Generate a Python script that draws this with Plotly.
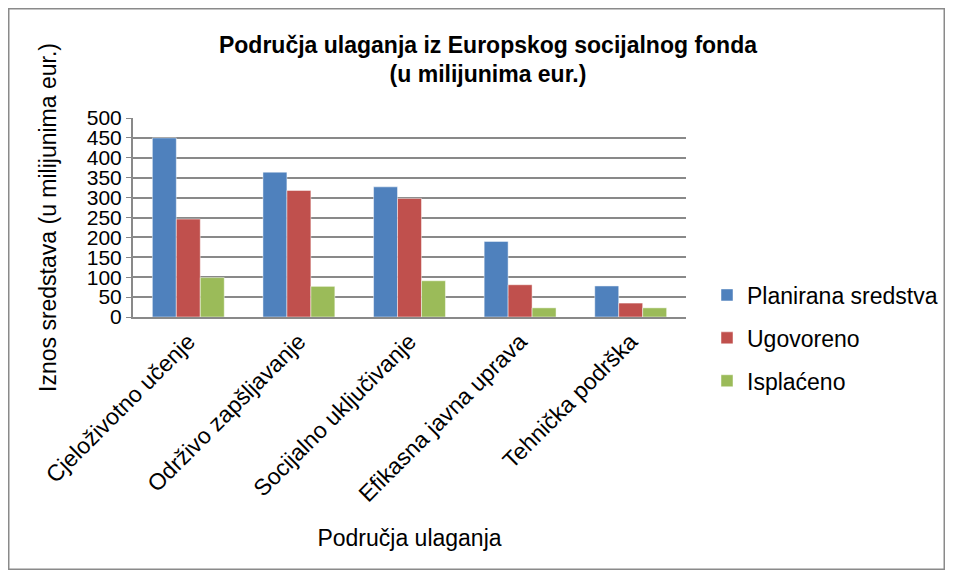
import plotly.graph_objects as go

categories = [
    "Cjeloživotno učenje",
    "Održivo zapšljavanje",
    "Socijalno uključivanje",
    "Efikasna javna uprava",
    "Tehnička podrška",
]
planirana = [450, 364, 327, 190, 78]
ugovoreno = [246, 318, 298, 81, 35]
isplaceno = [99, 77, 91, 23, 23]
y_ticks = list(range(0, 501, 50))

SERIES = [
    ("Planirana sredstva", planirana, "#4F81BD"),
    ("Ugovoreno", ugovoreno, "#C0504D"),
    ("Isplaćeno", isplaceno, "#9BBB59"),
]

FONT = "Arial, Liberation Sans, sans-serif"
GRID = "#898989"
FS = 23

fig = go.Figure()
for i, (name, values, color) in enumerate(SERIES):
    fig.add_trace(go.Bar(
        x=categories,
        y=values,
        name=name,
        legendgroup=str(i),
        marker={"color": color, "line": {"color": "rgba(255,255,255,0.6)", "width": 0.8}},
    ))

# figure is 937x562 (page body margin puts it at 8,8); plot area x 125..678, y 110..309
FW, FH = 937, 562
L, R, T, B = 125, 259, 110, 253
W, H = FW - L - R, FH - T - B


def px_x(p):
    return (p - L) / W


def px_y(p):
    return (FH - B - p) / H


fig.update_layout(
    width=FW,
    height=FH,
    paper_bgcolor="white",
    plot_bgcolor="white",
    barmode="group",
    bargap=0.35,
    bargroupgap=0,
    font={"family": FONT, "size": FS, "color": "#000000"},
    margin={"l": L, "r": R, "t": T, "b": B, "autoexpand": False},
    title={
        "text": "<b>Područja ulaganja iz Europskog socijalnog fonda<br>(u milijunima eur.)</b>",
        "font": {"family": FONT, "size": FS, "color": "#000000"},
        "x": px_x(480),
        "xref": "paper",
        "xanchor": "center",
        "y": 1 - 44.5 / FH,
        "yref": "container",
        "yanchor": "middle",
    },
    legend={
        "x": px_x(699),
        "xanchor": "left",
        "y": px_y(265.5),
        "yanchor": "top",
        "traceorder": "grouped",
        "tracegroupgap": 10,
        "font": {"family": FONT, "size": FS},
        "bgcolor": "rgba(0,0,0,0)",
    },
    shapes=[
        {
            "type": "rect",
            "xref": "paper",
            "yref": "paper",
            "x0": px_x(0.75),
            "x1": px_x(FW - 0.75),
            "y0": px_y(FH - 0.75),
            "y1": px_y(0.75),
            "line": {"color": "#8A8A8A", "width": 1.5},
            "fillcolor": "rgba(0,0,0,0)",
            "layer": "below",
        }
    ],
)

fig.update_xaxes(
    tickangle=-45,
    tickfont={"size": FS},
    showline=True,
    linecolor=GRID,
    linewidth=2,
    ticks="",
    title={"text": "Područja ulaganja", "font": {"size": FS}, "standoff": 24},
    automargin=False,
)
fig.update_yaxes(
    range=[0, 500],
    tickvals=y_ticks,
    tickfont={"size": 21},
    showgrid=True,
    gridcolor=GRID,
    gridwidth=2,
    showline=True,
    linecolor=GRID,
    linewidth=2,
    ticks="outside",
    tickcolor=GRID,
    ticklen=5,
    zeroline=False,
    title={"text": "Iznos sredstava (u milijunima eur.)", "font": {"size": FS}, "standoff": 24},
    automargin=False,
)

fig.write_html("out.html")
